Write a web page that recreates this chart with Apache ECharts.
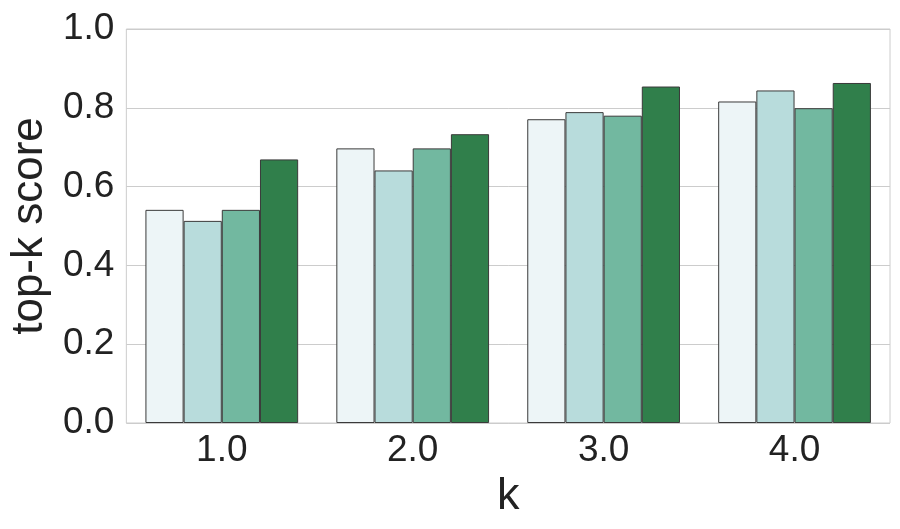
<!DOCTYPE html>
<html>
<head>
<meta charset="utf-8">
<script src="https://cdn.jsdelivr.net/npm/echarts@6/dist/echarts.min.js"></script>
<style>html,body{margin:0;padding:0;background:#fff}#c{width:900px;height:529px}</style>
</head>
<body>
<div id="c"></div>
<script>
var categories = ["1.0", "2.0", "3.0", "4.0"];
var series1 = [0.541, 0.697, 0.771, 0.816];
var series2 = [0.513, 0.641, 0.789, 0.844];
var series3 = [0.541, 0.697, 0.780, 0.799];
var series4 = [0.669, 0.733, 0.854, 0.863];
var yTicks = [0, 0.2, 0.4, 0.6, 0.8, 1.0];
var colors = ["#edf5f7", "#b8dcdc", "#72b8a0", "#307f4b"];

var chart = echarts.init(document.getElementById('c'), null, {renderer: 'canvas'});
var font = 'Arial, "Liberation Sans", Helvetica, sans-serif';
function bar(data, i) {
  return {
    type: 'bar', data: data, barGap: '0%', barCategoryGap: '20%',
    itemStyle: {color: colors[i], borderColor: '#3a3a3a', borderWidth: 1},
    animation: false
  };
}
chart.setOption({
  animation: false,
  grid: {left: 125, right: 10, top: 29, bottom: 106, show: true, borderColor: '#cccccc', borderWidth: 1, backgroundColor: 'transparent'},
  xAxis: {
    type: 'category', data: categories,
    axisLine: {show: false}, axisTick: {show: false},
    axisLabel: {fontSize: 37, color: '#222', fontFamily: font, margin: 9},
    name: 'k', nameLocation: 'middle', nameGap: 50,
    nameTextStyle: {fontSize: 45, color: '#222', fontFamily: font}
  },
  yAxis: {
    type: 'value', min: 0, max: 1.0, interval: 0.2,
    axisLine: {show: false}, axisTick: {show: false},
    splitLine: {lineStyle: {color: '#cccccc', width: 1}},
    axisLabel: {fontSize: 37, color: '#222', fontFamily: font, margin: 12,
      formatter: function(v){ return v.toFixed(1); }},
    name: 'top-k score', nameLocation: 'middle', nameGap: 72,
    nameTextStyle: {fontSize: 44, color: '#222', fontFamily: font}
  },
  series: [bar(series1,0), bar(series2,1), bar(series3,2), bar(series4,3)]
});
</script>
</body>
</html>
